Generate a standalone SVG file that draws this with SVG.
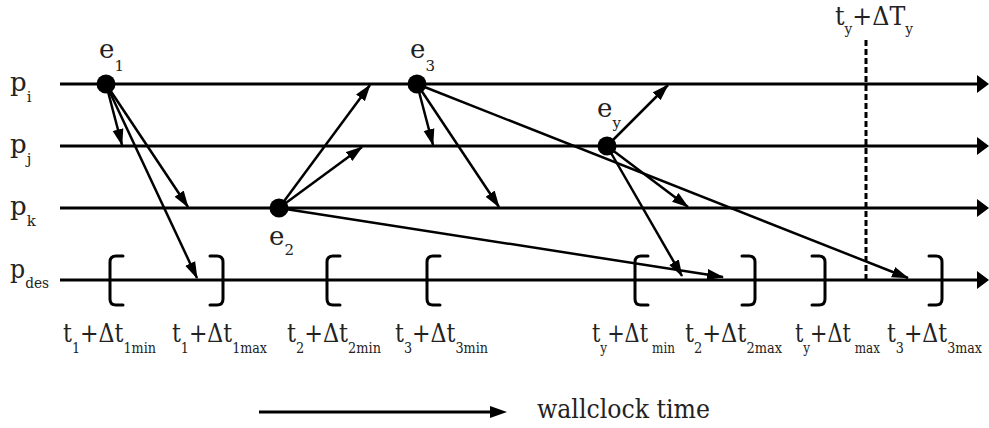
<svg xmlns="http://www.w3.org/2000/svg" width="989" height="428" viewBox="0 0 989 428">
<style>
text{font-family:'DejaVu Serif',serif;fill:#222;font-size:26px}
.s{font-size:15px}
.tl{stroke:#000;stroke-width:3;fill:none}
.msg{stroke:#000;stroke-width:2.5;fill:none;marker-end:url(#ah)}
.br{stroke:#000;stroke-width:3;fill:none;stroke-linecap:round}
.ev{fill:#000}
</style>
<defs>
<marker id="ah" markerWidth="17" markerHeight="12" refX="16" refY="6" orient="auto" markerUnits="userSpaceOnUse"><path d="M0,0.5 L17,6 L0,11.5 z" fill="#000"/></marker>
<marker id="big" markerWidth="13" markerHeight="20" refX="0" refY="10" orient="auto" markerUnits="userSpaceOnUse"><path d="M0,1 L12,10 L0,19 z" fill="#000"/></marker>
<marker id="wc" markerWidth="18" markerHeight="14" refX="0" refY="7" orient="auto" markerUnits="userSpaceOnUse"><path d="M0,1 L17,7 L0,13 z" fill="#000"/></marker>
</defs>

<g id="timelines">
<line class="tl" x1="60" y1="84" x2="977" y2="84" marker-end="url(#big)"/>
<line class="tl" x1="60" y1="146" x2="977" y2="146" marker-end="url(#big)"/>
<line class="tl" x1="60" y1="208" x2="977" y2="208" marker-end="url(#big)"/>
<line class="tl" x1="60" y1="280" x2="977" y2="280" marker-end="url(#big)"/>
</g>

<g id="labels-p">
<text x="10" y="91">p<tspan class="s" dy="11">i</tspan></text>
<text x="10" y="153">p<tspan class="s" dy="11">j</tspan></text>
<text x="10" y="215">p<tspan class="s" dy="11">k</tspan></text>
<text x="10" y="278" textLength="39" lengthAdjust="spacingAndGlyphs">p<tspan class="s" dy="10">des</tspan></text>
</g>

<g id="deadline">
<line x1="866" y1="40" x2="866" y2="280" stroke="#000" stroke-width="3" stroke-dasharray="6,3"/>
<text x="835" y="25" textLength="78" lengthAdjust="spacingAndGlyphs">t<tspan class="s" dy="9">y</tspan><tspan dy="-9">+ΔT</tspan><tspan class="s" dy="9">y</tspan></text>
</g>

<g id="connectors">
<line class="msg" x1="106" y1="84" x2="122" y2="145"/>
<line class="msg" x1="106" y1="84" x2="188" y2="207"/>
<line class="msg" x1="106" y1="84" x2="197" y2="278"/>
<line class="msg" x1="279" y1="208" x2="370" y2="85"/>
<line class="msg" x1="279" y1="208" x2="362" y2="147"/>
<line class="msg" x1="279" y1="208" x2="723" y2="277"/>
<line class="msg" x1="417" y1="84" x2="433" y2="145"/>
<line class="msg" x1="417" y1="84" x2="499" y2="207"/>
<line class="msg" x1="417" y1="84" x2="908" y2="278"/>
<line class="msg" x1="607" y1="146" x2="668" y2="85"/>
<line class="msg" x1="607" y1="146" x2="688" y2="207"/>
<line class="msg" x1="607" y1="146" x2="682" y2="276"/>
</g>

<g id="e1"><circle class="ev" cx="106" cy="84" r="9.5"/><text x="99" y="58">e<tspan class="s" dy="13">1</tspan></text></g>
<g id="e2"><circle class="ev" cx="279" cy="208" r="9.5"/><text x="269" y="245">e<tspan class="s" dy="10">2</tspan></text></g>
<g id="e3"><circle class="ev" cx="417" cy="84" r="9.5"/><text x="410" y="58">e<tspan class="s" dy="13">3</tspan></text></g>
<g id="ey"><circle class="ev" cx="607" cy="146" r="9.5"/><text x="597" y="117">e<tspan class="s" dy="11">y</tspan></text></g>

<g id="brackets">
<path class="br" d="M123,256 L116,256 Q110,256 110,262 L110,299 Q110,305 116,305 L123,305"/>
<path class="br" d="M210,256 L217,256 Q223,256 223,262 L223,299 Q223,305 217,305 L210,305"/>
<path class="br" d="M340,256 L333,256 Q327,256 327,262 L327,299 Q327,305 333,305 L340,305"/>
<path class="br" d="M440,256 L433,256 Q427,256 427,262 L427,299 Q427,305 433,305 L440,305"/>
<path class="br" d="M648,256 L641,256 Q635,256 635,262 L635,299 Q635,305 641,305 L648,305"/>
<path class="br" d="M742,256 L749,256 Q755,256 755,262 L755,299 Q755,305 749,305 L742,305"/>
<path class="br" d="M812,256 L819,256 Q825,256 825,262 L825,299 Q825,305 819,305 L812,305"/>
<path class="br" d="M929,256 L936,256 Q942,256 942,262 L942,299 Q942,305 936,305 L929,305"/>
</g>

<g id="bounds">
<text x="63" y="342" textLength="93" lengthAdjust="spacingAndGlyphs">t<tspan class="s" dy="11">1</tspan><tspan dy="-11">+Δt</tspan><tspan class="s" dy="11">1min</tspan></text>
<text x="172" y="342" textLength="95" lengthAdjust="spacingAndGlyphs">t<tspan class="s" dy="11">1</tspan><tspan dy="-11">+Δt</tspan><tspan class="s" dy="11">1max</tspan></text>
<text x="287" y="342" textLength="94" lengthAdjust="spacingAndGlyphs">t<tspan class="s" dy="11">2</tspan><tspan dy="-11">+Δt</tspan><tspan class="s" dy="11">2min</tspan></text>
<text x="395" y="342" textLength="93" lengthAdjust="spacingAndGlyphs">t<tspan class="s" dy="11">3</tspan><tspan dy="-11">+Δt</tspan><tspan class="s" dy="11">3min</tspan></text>
<text x="592" y="342" textLength="83" lengthAdjust="spacingAndGlyphs">t<tspan class="s" dy="11">y</tspan><tspan dy="-11">+Δt</tspan><tspan class="s" dy="11" dx="5">min</tspan></text>
<text x="685" y="342" textLength="97" lengthAdjust="spacingAndGlyphs">t<tspan class="s" dy="11">2</tspan><tspan dy="-11">+Δt</tspan><tspan class="s" dy="11">2max</tspan></text>
<text x="795" y="342" textLength="85" lengthAdjust="spacingAndGlyphs">t<tspan class="s" dy="11">y</tspan><tspan dy="-11">+Δt</tspan><tspan class="s" dy="11" dx="5">max</tspan></text>
<text x="887" y="342" textLength="95" lengthAdjust="spacingAndGlyphs">t<tspan class="s" dy="11">3</tspan><tspan dy="-11">+Δt</tspan><tspan class="s" dy="11">3max</tspan></text>
</g>

<g id="legend">
<line x1="259" y1="412" x2="490" y2="412" stroke="#000" stroke-width="3" marker-end="url(#wc)"/>
<text x="537" y="418" textLength="173" lengthAdjust="spacingAndGlyphs">wallclock time</text>
</g>
</svg>
